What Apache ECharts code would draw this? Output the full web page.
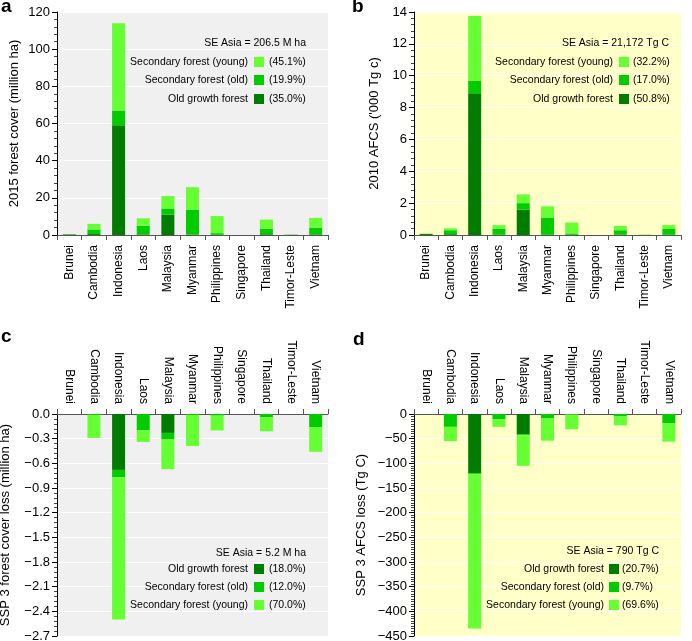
<!DOCTYPE html>
<html>
<head>
<meta charset="utf-8">
<script src="https://cdn.jsdelivr.net/npm/echarts@6/dist/echarts.min.js"></script>
<style>
html,body{margin:0;padding:0;background:#fff;}
#chart{width:692px;height:641px;}
</style>
</head>
<body>
<div id="chart"></div>
<script>
// ---- Data ----
const categories = ['Brunei','Cambodia','Indonesia','Laos','Malaysia','Myanmar','Philippines','Singapore','Thailand','Timor-Leste','Vietnam'];

// a: 2015 forest cover (million ha)
const coverOld      = [0.3, 0.5, 59, 0.3, 11, 0.2, 0.1, 0, 0.4, 0.1, 0.3];
const coverSecOld   = [0.1, 2.5, 8, 4.7, 3.3, 13.3, 0.9, 0, 2.9, 0.05, 3.7];
const coverSecYoung = [0.1, 3, 47, 4, 6.7, 12.2, 9.2, 0, 5, 0.1, 5.2];

// b: 2010 AFCS ('000 Tg C)
const afcsOld      = [0.06, 0.05, 8.9, 0.02, 1.6, 0.01, 0.01, 0, 0.03, 0.005, 0.02];
const afcsSecOld   = [0.01, 0.25, 0.8, 0.38, 0.4, 1.09, 0.09, 0, 0.27, 0.005, 0.36];
const afcsSecYoung = [0.01, 0.12, 4.05, 0.22, 0.55, 0.7, 0.68, 0, 0.27, 0.01, 0.24];

// c: SSP3 forest cover loss (million ha)
const lossOld      = [0, 0, -0.68, 0, -0.23, 0, 0, 0, 0, 0, 0];
const lossSecOld   = [0, -0.01, -0.09, -0.2, -0.08, -0.01, -0.02, 0, -0.04, 0, -0.16];
const lossSecYoung = [0, -0.28, -1.73, -0.14, -0.36, -0.38, -0.18, 0, -0.17, 0, -0.3];

// d: SSP3 AFCS loss (Tg C)
const afcsLossOld      = [0, 0, -120, 0, -41, 0, 0, 0, 0, 0, 0];
const afcsLossSecOld   = [0, -26, -2, -11, -2, -9, -1, 0, -5, 0, -19];
const afcsLossSecYoung = [0, -29, -313, -15, -62, -45, -30, 0, -18, 0, -37];

// legend texts
const seriesNames = ['Old growth forest', 'Secondary forest (old)', 'Secondary forest (young)'];
const totalsText = ['SE Asia = 206.5 M ha', 'SE Asia = 21,172 Tg C', 'SE Asia = 5.2 M ha', 'SE Asia = 790 Tg C'];
const pctA = ['(35.0%)', '(19.9%)', '(45.1%)'];
const pctB = ['(50.8%)', '(17.0%)', '(32.2%)'];
const pctC = ['(18.0%)', '(12.0%)', '(70.0%)'];
const pctD = ['(20.7%)', '(9.7%)', '(69.6%)'];
const yNames = ['2015 forest cover (million ha)', "2010 AFCS ('000 Tg c)", 'SSP 3 forest cover loss (million ha)', 'SSP 3 AFCS loss (Tg C)'];
const panelLetters = ['a', 'b', 'c', 'd'];

// ---- Styles ----
const FONT = 'Liberation Sans, Arial, Helvetica, sans-serif';
const COLORS = ['#007c00', '#00cc00', '#66ff33'];
const GRAY_BG = '#f0f0f0';
const YELLOW_BG = '#ffffc8';
const LEG_SIZE = 10.5;

const grids = [
  {left: 57, top: 12, width: 271, height: 223, show: true, backgroundColor: GRAY_BG, borderWidth: 0},
  {left: 414, top: 12, width: 267, height: 223, show: true, backgroundColor: YELLOW_BG, borderWidth: 0},
  {left: 57, top: 414, width: 271, height: 222, show: true, backgroundColor: GRAY_BG, borderWidth: 0},
  {left: 414, top: 414, width: 267, height: 222, show: true, backgroundColor: YELLOW_BG, borderWidth: 0}
].map(g => Object.assign(g, {containLabel: false, outerBoundsMode: 'none'}));

function xAxis(i, pos) {
  return {
    gridIndex: i, type: 'category', data: categories, position: pos,
    axisLine: {show: true, onZero: false, lineStyle: {color: '#555', width: 1}},
    axisTick: {show: true, length: 5, inside: false, lineStyle: {color: '#555'}},
    axisLabel: {rotate: 90, interval: 0, fontSize: 12, color: '#000', margin: 10, fontFamily: FONT},
    splitLine: {show: false}
  };
}
function fmtMinus(dec) {
  return v => {
    const s = Math.abs(v).toFixed(dec);
    return (v < -1e-9 ? '\u2212' : '') + s;
  };
}
function yAxis(i, min, max, interval, name, nameGap, dec, minorSplit) {
  return {
    gridIndex: i, type: 'value', min: min, max: max, interval: interval,
    name: name, nameLocation: 'middle', nameGap: nameGap,
    nameTextStyle: {fontSize: 13, color: '#000', fontFamily: FONT},
    axisLine: {show: true, lineStyle: {color: '#000', width: 1}},
    axisTick: {show: true, length: 5, lineStyle: {color: '#000'}},
    minorTick: {show: true, splitNumber: minorSplit, length: 3, lineStyle: {color: '#444'}},
    splitLine: {show: true, lineStyle: {color: '#ffffff', width: 1}},
    minorSplitLine: {show: false},
    axisLabel: {fontSize: 13, color: '#000', margin: 7, fontFamily: FONT, formatter: fmtMinus(dec)}
  };
}

const panelData = [
  [coverOld, coverSecOld, coverSecYoung],
  [afcsOld, afcsSecOld, afcsSecYoung],
  [lossOld, lossSecOld, lossSecYoung],
  [afcsLossOld, afcsLossSecOld, afcsLossSecYoung]
];

const series = [];
panelData.forEach((arrs, p) => {
  arrs.forEach((arr, k) => {
    series.push({
      type: 'bar', name: seriesNames[k] + p, xAxisIndex: p, yAxisIndex: p,
      stack: 'st' + p, data: arr, barWidth: 13,
      itemStyle: {color: COLORS[k], borderWidth: 0},
      emphasis: {disabled: true}, silent: true
    });
  });
});

// legends (graphic)
const graphic = [];
function txt(x, y, text, align, size, bold) {
  graphic.push({
    type: 'text', x: x, y: y, silent: true, z: 100,
    style: {text: text, align: align, verticalAlign: 'middle', textAlign: align, textVerticalAlign: 'middle',
      fontSize: size, fontFamily: FONT, fontWeight: bold ? 'bold' : 'normal', fill: '#000'}
  });
}
function legend(totalIdx, pcts, order, titleX, titleY, textRight, swX, pctLeft, rowY) {
  txt(titleX, titleY, totalsText[totalIdx], 'right', LEG_SIZE);
  order.forEach((k, r) => {
    txt(textRight, rowY[r], seriesNames[k], 'right', LEG_SIZE);
    graphic.push({type: 'rect', silent: true, z: 100, shape: {x: swX, y: rowY[r] - 5, width: 10, height: 10}, style: {fill: COLORS[k]}});
    txt(pctLeft, rowY[r], pcts[k], 'left', LEG_SIZE);
  });
}
legend(0, pctA, [2, 1, 0], 306, 43, 248, 254, 269, [62, 80, 99]);
legend(1, pctB, [2, 1, 0], 669, 43, 613, 619, 633, [62, 80, 99]);
legend(2, pctC, [0, 1, 2], 306, 553, 248, 254, 269, [569, 587, 605]);
legend(3, pctD, [0, 1, 2], 659, 551, 604, 609, 622, [569, 587, 605]);

// panel letters
[[1, 7], [352, 7], [1, 337], [353, 340]].forEach((pt, i) => {
  txt(pt[0], pt[1], panelLetters[i], 'left', 19, true);
});

const option = {
  animation: false,
  backgroundColor: '#ffffff',
  textStyle: {fontFamily: FONT},
  grid: grids,
  xAxis: [xAxis(0, 'bottom'), xAxis(1, 'bottom'), xAxis(2, 'top'), xAxis(3, 'top')],
  yAxis: [
    yAxis(0, 0, 120, 20, yNames[0], 36, 0, 5),
    yAxis(1, 0, 14, 2, yNames[1], 33, 0, 5),
    yAxis(2, -2.7, 0, 0.3, yNames[2], 45, 1, 5),
    yAxis(3, -450, 0, 50, yNames[3], 46, 0, 10)
  ],
  series: series,
  graphic: graphic
};

const chart = echarts.init(document.getElementById('chart'), null, {renderer: 'canvas'});
chart.setOption(option);
</script>
</body>
</html>
